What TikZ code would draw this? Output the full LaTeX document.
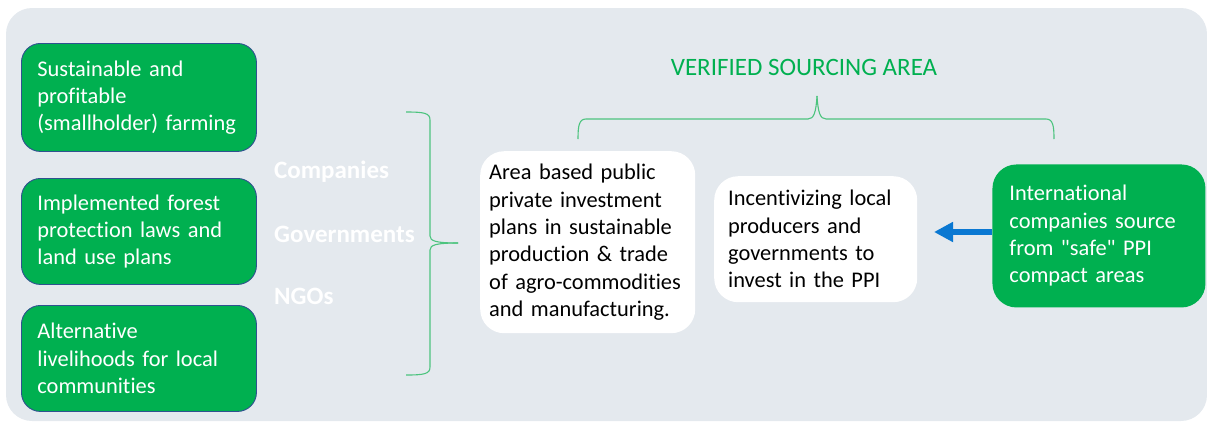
\documentclass[tikz,border=0pt]{standalone}
\usepackage{fontspec}
\setmainfont[Ligatures={NoCommon}]{Carlito}
\usetikzlibrary{arrows.meta}
\definecolor{bgc}{HTML}{E4E9EE}
\definecolor{grn}{HTML}{00B050}
\definecolor{bord}{HTML}{2F528F}
\definecolor{brc}{HTML}{4CC47E}
\definecolor{arr}{HTML}{0A78D2}
\tikzset{
  txt/.style={font=\fontsize{22.4}{27.3}\selectfont, align=left, anchor=north west, inner ysep=0pt},
  greenbox/.style={txt, fill=grn, draw=bord, line width=0.9pt, rounded corners=19pt, text=white},
  whitebox/.style={txt, fill=white, rounded corners=24pt, text=black},
  actor/.style={font=\fontsize{25}{30}\selectfont\bfseries, text=white, anchor=west, inner sep=0pt},
  brace/.style={draw=brc, line width=1.1pt},
}
\begin{document}
\begin{tikzpicture}[x=1pt,y=-1pt]
\useasboundingbox (0,0) rectangle (1207,421);
\fill[bgc, rounded corners=26pt] (6,8) rectangle (1207,421);
% left boxes
\node[greenbox, minimum width=235pt, minimum height=108pt, text width=203pt, inner xsep=16pt] (b1) at (21,43) {Sustainable and\\profitable\\(smallholder) farming};
\node[greenbox, minimum width=235pt, minimum height=106pt, text width=203pt, inner xsep=16pt] (b2) at (21,178) {Implemented forest\\protection laws and\\land use plans};
\node[greenbox, minimum width=235pt, minimum height=106pt, text width=203pt, inner xsep=16pt] (b3) at (21,305) {Alternative\\livelihoods for local\\communities};
% actors
\node[actor] (c1) at (274,172) {Companies};
\node[actor] (c2) at (274,234) {Governments};
\node[actor] (c3) at (274,296) {NGOs};
% left brace
\coordinate (lbt) at (406,112);
\coordinate (lbb) at (406,375);
\coordinate (lbm) at (458,243);
\draw[brace] (lbt) .. controls (424,112) and (430,113) .. (430,120) -- (430,236) .. controls (430,241) and (436,243) .. (lbm);
\draw[brace] (lbb) .. controls (424,375) and (430,374) .. (430,367) -- (430,250) .. controls (430,245) and (436,243) .. (lbm);
% white boxes
\node[whitebox, minimum width=215pt, minimum height=182pt, text width=197pt, inner xsep=9pt] (w1) at (480,151) {Area based public\\private investment\\plans in sustainable\\production \& trade\\of agro-commodities\\and manufacturing.};
\node[whitebox, minimum width=203pt, minimum height=126pt, text width=175pt, inner xsep=14pt] (w2) at (714,176) {Incentivizing local\\producers and\\governments to\\invest in the PPI};
% right green box
\node[greenbox, draw=none, rounded corners=24pt, minimum width=213pt, minimum height=143pt, text width=179pt, inner xsep=17pt] (g) at (992,164) {International\\companies source\\from \textquotedbl safe\textquotedbl\ PPI\\compact areas};
% arrow
\draw[arr, line width=5.5pt, -{Triangle[length=19pt,width=19pt]}] (g.west |- 0,232) -- (934,232) coordinate (tip);
% top brace
\coordinate (tbl) at (578,139);
\coordinate (tbr) at (1054,139);
\coordinate (tbm) at (817,96);
\draw[brace] (tbl) .. controls (578,126) and (579,119) .. (586,119) -- (808,119) .. controls (814,119) and (816,112) .. (tbm);
\draw[brace] (tbr) .. controls (1054,126) and (1053,119) .. (1046,119) -- (826,119) .. controls (820,119) and (818,112) .. (tbm);
\node[font=\fontsize{25}{30}\selectfont, text=grn, inner sep=0pt] (title) at (804,67) {VERIFIED SOURCING AREA};
\end{tikzpicture}
\end{document}
